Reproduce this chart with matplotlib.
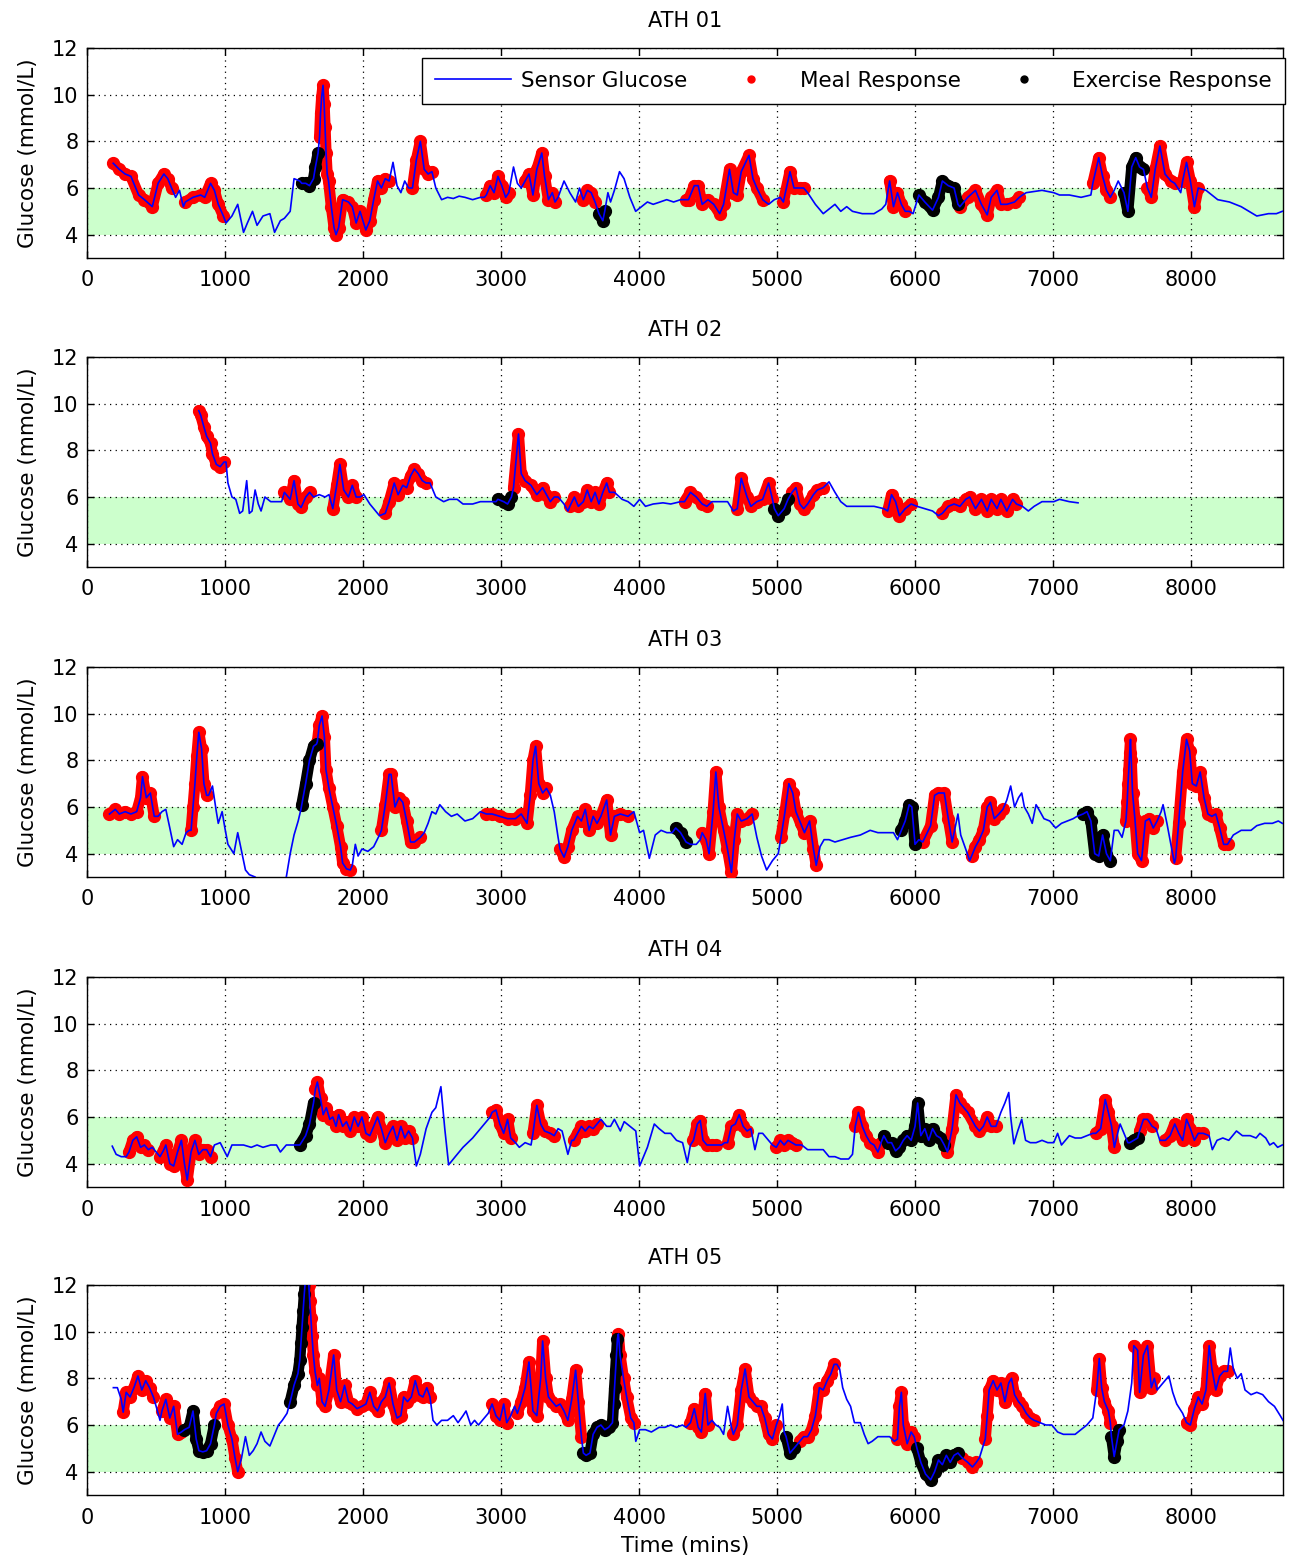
import matplotlib
matplotlib.use('Agg')
import matplotlib.pyplot as plt
from matplotlib.lines import Line2D
import numpy as np

# sensor glucose traces: (time in mins, glucose in mmol/L)
ath01 = [(190, 7.06), (234, 6.8), (276, 6.6), (318, 6.5), (374, 5.7), (416, 5.5), (473, 5.2), (515, 6.2),
         (557, 6.6), (585, 6.4), (613, 6.0), (642, 5.6), (670, 5.9), (698, 5.2), (712, 5.4), (768, 5.6),
         (824, 5.7), (853, 5.6), (895, 6.2), (923, 5.9), (951, 5.3), (988, 4.8), (1007, 4.5), (1050, 4.8),
         (1092, 5.3), (1134, 4.1), (1162, 4.5), (1199, 5.0), (1232, 4.4), (1275, 4.8), (1325, 4.9),
         (1359, 4.1), (1401, 4.6), (1430, 4.7), (1472, 5.0), (1500, 6.4), (1542, 6.3),
         (1556, 6.2), (1585, 6.2), (1612, 6.1), (1641, 6.4), (1655, 6.9), (1674, 7.5),
         (1685, 8.2), (1692, 9.2), (1700, 9.9), (1710, 10.4), (1718, 9.6), (1725, 8.6), (1732, 7.5),
         (1740, 6.6), (1750, 6.3), (1770, 5.2), (1790, 4.3), (1804, 4.0), (1823, 4.3), (1852, 5.5),
         (1894, 5.4), (1922, 5.2), (1950, 4.5), (1978, 5.0), (2020, 4.2), (2049, 4.6), (2077, 5.5),
         (2105, 6.3), (2133, 6.0), (2161, 6.4), (2189, 6.3), (2217, 7.1), (2246, 6.1), (2274, 5.8),
         (2302, 6.3), (2330, 6.0), (2358, 6.0), (2386, 7.2), (2415, 8.0), (2443, 6.8), (2471, 6.6),
         (2499, 6.7), (2527, 6.0), (2569, 5.5), (2612, 5.6), (2654, 5.55), (2696, 5.65), (2738, 5.6),
         (2794, 5.5), (2850, 5.6), (2879, 5.6), (2893, 5.7), (2921, 6.1), (2949, 5.8), (2977, 6.5),
         (3005, 6.1), (3033, 5.6), (3056, 5.8), (3090, 6.9), (3118, 6.2), (3146, 6.0), (3174, 6.3),
         (3202, 6.6), (3231, 5.7), (3259, 6.8), (3295, 7.5), (3315, 6.5), (3343, 5.5), (3371, 5.8),
         (3391, 5.4), (3413, 5.6), (3456, 6.3), (3498, 5.8), (3540, 5.4), (3568, 6.0), (3596, 5.5),
         (3625, 5.9), (3653, 5.8), (3681, 5.4), (3709, 4.9), (3737, 4.6), (3751, 5.0), (3774, 5.8),
         (3793, 5.4), (3821, 5.9), (3858, 6.7), (3891, 6.4), (3933, 5.6), (3975, 5.0), (4017, 5.2),
         (4060, 5.4), (4102, 5.3), (4150, 5.4), (4200, 5.5), (4250, 5.4), (4300, 5.5), (4343, 5.5),
         (4358, 5.5), (4400, 6.1), (4428, 6.1), (4457, 5.3), (4499, 5.5), (4541, 5.3), (4584, 4.9),
         (4612, 5.3), (4655, 6.8), (4683, 5.8), (4711, 5.7), (4740, 6.7), (4796, 7.4), (4825, 6.4),
         (4853, 6.0), (4895, 5.5), (4938, 5.3), (4980, 5.5), (5023, 5.6), (5045, 5.4), (5093, 6.7),
         (5122, 6.0), (5164, 6.0), (5192, 6.0), (5221, 5.8), (5277, 5.3), (5334, 4.9), (5376, 5.1),
         (5419, 5.3), (5461, 5.0), (5504, 5.2), (5546, 5.0), (5617, 4.9), (5702, 4.9), (5758, 5.1),
         (5787, 5.3), (5815, 6.3), (5843, 5.2), (5872, 5.8), (5900, 5.3), (5928, 5.0), (5957, 5.0),
         (5985, 4.9), (6027, 5.7), (6070, 5.4), (6126, 5.05), (6169, 5.6), (6197, 6.3), (6240, 6.1),
         (6282, 6.0), (6310, 5.3), (6324, 5.2), (6381, 5.6), (6437, 5.9), (6480, 5.3), (6522, 4.85),
         (6551, 5.6), (6593, 5.9), (6621, 5.3), (6664, 5.3), (6720, 5.4), (6755, 5.6), (6777, 5.7),
         (6805, 5.8), (6919, 5.9), (7004, 5.8), (7046, 5.7), (7117, 5.7), (7202, 5.6), (7273, 5.7),
         (7287, 6.2), (7330, 7.3), (7358, 6.5), (7386, 5.9), (7414, 5.6), (7442, 5.9), (7471, 6.3),
         (7513, 5.8), (7541, 5.0), (7569, 6.9), (7598, 7.3), (7626, 6.9), (7654, 6.8), (7683, 6.0),
         (7711, 5.6), (7739, 6.8), (7773, 7.8), (7810, 6.6), (7853, 6.3), (7881, 6.2), (7924, 5.8),
         (7938, 6.3), (7966, 7.1), (7994, 6.3), (8023, 5.2), (8051, 6.0), (8107, 5.9), (8192, 5.5),
         (8277, 5.4), (8362, 5.2), (8475, 4.8), (8560, 4.9), (8617, 4.9), (8660, 5.0)]
ath01_meal = [(190, 613), (712, 988), (1680, 2189), (2358, 2499), (2893, 3056), (3174, 3391),
              (3596, 3681), (4343, 4895), (5045, 5192), (5815, 5928), (6324, 6755), (7287, 7414),
              (7683, 7881), (7938, 8051)]
ath01_ex = [(1556, 1674), (3709, 3751), (6027, 6310), (7513, 7654)]

ath02 = [(810, 9.7), (824, 9.5), (847, 9.0), (867, 8.6), (895, 8.3), (909, 7.85), (937, 7.4), (965, 7.3),
         (993, 7.5), (1007, 7.5), (1021, 6.6), (1050, 6.0), (1078, 5.9), (1106, 5.3), (1128, 5.4),
         (1157, 6.7), (1176, 5.3), (1196, 5.4), (1218, 6.3), (1241, 5.7), (1261, 5.4), (1289, 6.0),
         (1331, 5.8), (1373, 5.8), (1410, 5.8), (1430, 6.2), (1472, 5.9), (1500, 6.7), (1528, 5.7),
         (1551, 5.55), (1585, 6.0), (1613, 6.2), (1641, 6.0), (1683, 6.1), (1725, 6.0), (1753, 6.1),
         (1781, 5.5), (1809, 6.5), (1832, 7.4), (1860, 6.3), (1894, 6.0), (1922, 6.5), (1950, 6.0),
         (1978, 6.0), (2007, 6.1), (2049, 5.7), (2091, 5.4), (2119, 5.2), (2161, 5.3), (2189, 5.8),
         (2226, 6.6), (2254, 6.1), (2288, 6.5), (2316, 6.4), (2344, 6.9), (2372, 7.2), (2400, 7.0),
         (2429, 6.7), (2457, 6.6), (2485, 6.6), (2527, 6.0), (2584, 5.8), (2625, 5.9), (2682, 5.9),
         (2724, 5.7), (2794, 5.7), (2850, 5.8), (2907, 5.8), (2963, 5.8), (2977, 5.9), (3019, 5.8),
         (3047, 5.7), (3075, 6.0), (3090, 6.4), (3112, 7.8), (3126, 8.7), (3146, 7.0), (3174, 6.7),
         (3217, 6.5), (3259, 6.1), (3301, 6.4), (3329, 6.1), (3357, 5.8), (3385, 6.0), (3413, 6.0),
         (3456, 5.7), (3484, 5.4), (3498, 5.6), (3531, 6.0), (3560, 5.6), (3596, 5.8), (3624, 6.3),
         (3653, 5.8), (3681, 6.2), (3709, 5.7), (3737, 6.2), (3765, 6.6), (3785, 6.2), (3821, 6.2),
         (3877, 5.9), (3920, 5.8), (3962, 5.6), (4004, 5.9), (4046, 5.6), (4102, 5.7), (4173, 5.75),
         (4229, 5.7), (4300, 5.8), (4329, 5.8), (4372, 6.2), (4414, 6.0), (4457, 5.7), (4491, 5.6),
         (4527, 5.8), (4598, 5.8), (4641, 5.8), (4683, 5.4), (4711, 5.5), (4740, 6.8), (4782, 6.0),
         (4810, 5.6), (4853, 5.8), (4895, 5.9), (4938, 6.6), (4966, 5.9), (4980, 5.5), (5008, 5.2),
         (5051, 5.5), (5079, 5.9), (5108, 6.2), (5136, 6.4), (5164, 5.7), (5192, 5.5), (5221, 5.7),
         (5263, 6.1), (5291, 6.3), (5334, 6.4), (5376, 6.65), (5419, 6.2), (5461, 5.8), (5504, 5.6),
         (5589, 5.6), (5702, 5.6), (5773, 5.5), (5801, 5.4), (5829, 6.1), (5858, 5.8), (5886, 5.2),
         (5928, 5.5), (5971, 5.7), (6013, 5.6), (6070, 5.5), (6126, 5.4), (6169, 5.2), (6197, 5.3),
         (6240, 5.6), (6282, 5.7), (6324, 5.6), (6366, 5.9), (6395, 6.0), (6437, 5.5), (6480, 5.9),
         (6522, 5.4), (6551, 5.9), (6593, 5.5), (6621, 5.9), (6664, 5.4), (6706, 5.9), (6734, 5.7),
         (6777, 5.6), (6820, 5.4), (6862, 5.6), (6919, 5.8), (7004, 5.8), (7046, 5.9), (7117, 5.8),
         (7180, 5.75)]
ath02_meal = [(810, 993), (1430, 1613), (1781, 1950), (2161, 2457), (3090, 3385), (3498, 3785),
              (4329, 4491), (4711, 4966), (5108, 5334), (5801, 5971), (6197, 6734)]
ath02_ex = [(2977, 3075), (4980, 5079)]

ath03 = [(163, 5.7), (205, 5.9), (234, 5.7), (276, 5.8), (318, 5.7), (360, 5.8), (388, 6.4), (402, 7.3),
         (430, 6.4), (459, 6.6), (487, 5.6), (515, 5.6), (543, 5.8), (571, 5.9), (600, 5.1), (628, 4.3),
         (656, 4.6), (689, 4.4), (718, 4.9), (740, 5.0), (754, 5.0), (768, 6.0), (782, 7.0), (796, 8.2),
         (810, 9.2), (830, 8.5), (847, 7.0), (867, 6.5), (881, 6.5), (909, 6.9), (937, 5.8), (951, 5.3),
         (979, 5.8), (999, 5.1), (1021, 4.4), (1064, 4.0), (1092, 4.9), (1120, 4.1), (1148, 3.3),
         (1176, 3.1), (1218, 3.0), (1300, 2.4), (1400, 2.6), (1444, 3.0), (1472, 4.0), (1500, 4.8),
         (1530, 5.4), (1550, 5.9), (1556, 6.1), (1584, 7.0), (1612, 8.0), (1641, 8.6), (1663, 8.7),
         (1669, 8.8), (1683, 9.5), (1703, 9.9), (1720, 9.0), (1731, 7.6), (1753, 6.8), (1781, 6.0),
         (1809, 5.2), (1837, 4.3), (1852, 3.6), (1880, 3.35), (1908, 3.3), (1922, 3.5), (1944, 4.4),
         (1964, 3.9), (1992, 4.2), (2035, 4.1), (2077, 4.3), (2119, 4.8), (2133, 5.0), (2161, 6.1),
         (2189, 7.4), (2203, 7.4), (2231, 6.0), (2260, 6.4), (2288, 6.2), (2316, 5.4), (2344, 4.5),
         (2372, 4.5), (2415, 4.7), (2443, 4.9), (2471, 5.3), (2499, 5.8), (2527, 5.7), (2556, 6.1),
         (2598, 5.8), (2640, 5.6), (2682, 5.7), (2738, 5.4), (2794, 5.5), (2850, 5.8), (2893, 5.7),
         (2935, 5.7), (2991, 5.6), (3047, 5.5), (3104, 5.5), (3146, 5.7), (3188, 5.3), (3211, 6.5),
         (3231, 8.0), (3250, 8.6), (3273, 7.0), (3301, 6.6), (3329, 6.8), (3357, 6.5), (3385, 5.8),
         (3413, 4.7), (3427, 4.2), (3456, 3.85), (3484, 4.3), (3512, 5.0), (3554, 5.6), (3582, 5.4),
         (3610, 5.9), (3638, 5.0), (3667, 5.6), (3695, 5.3), (3723, 5.6), (3765, 6.3), (3793, 4.8),
         (3821, 5.6), (3864, 5.7), (3920, 5.6), (3962, 5.8), (4004, 4.9), (4032, 5.0), (4074, 3.8),
         (4117, 4.8), (4159, 5.0), (4201, 4.9), (4240, 4.9), (4265, 5.1), (4300, 4.9), (4340, 4.5),
         (4372, 4.4), (4414, 4.4), (4443, 4.6), (4457, 4.9), (4485, 4.6), (4507, 4.0), (4536, 5.8),
         (4556, 7.5), (4578, 6.0), (4612, 5.0), (4640, 4.2), (4669, 3.2), (4689, 4.6), (4711, 5.7),
         (4740, 5.4), (4782, 5.5), (4819, 5.7), (4853, 4.7), (4887, 3.9), (4924, 3.3), (4966, 3.7),
         (5008, 4.0), (5028, 4.7), (5057, 5.8), (5085, 7.0), (5113, 6.6), (5136, 5.8), (5170, 5.3),
         (5198, 4.9), (5235, 5.4), (5263, 4.2), (5283, 3.5), (5311, 4.3), (5340, 4.6), (5376, 4.6),
         (5419, 4.5), (5475, 4.6), (5532, 4.7), (5603, 4.8), (5674, 5.0), (5730, 4.9), (5787, 4.9),
         (5843, 4.9), (5872, 4.6), (5900, 5.0), (5928, 5.4), (5957, 6.1), (5976, 6.0), (5999, 4.4),
         (6027, 4.6), (6055, 4.5), (6112, 5.2), (6141, 6.5), (6169, 6.6), (6211, 6.6), (6240, 5.5),
         (6268, 4.5), (6310, 5.7), (6330, 4.8), (6366, 4.2), (6395, 3.7), (6409, 3.9), (6437, 4.3),
         (6465, 4.6), (6494, 5.0), (6522, 6.0), (6545, 6.2), (6573, 5.5), (6607, 5.7), (6636, 5.9),
         (6664, 6.3), (6692, 6.9), (6720, 6.0), (6749, 6.4), (6772, 6.6), (6791, 6.0), (6820, 5.7),
         (6848, 5.3), (6876, 6.1), (6905, 5.8), (6933, 5.5), (6975, 5.4), (7018, 5.1), (7060, 5.3),
         (7103, 5.4), (7145, 5.5), (7173, 5.6), (7216, 5.7), (7245, 5.8), (7273, 5.4), (7301, 4.0),
         (7330, 3.9), (7358, 4.8), (7386, 4.0), (7414, 3.7), (7442, 5.0), (7471, 5.0), (7499, 4.7),
         (7527, 5.4), (7536, 6.2), (7542, 7.0), (7548, 7.6), (7554, 8.3), (7560, 8.9), (7566, 8.0),
         (7575, 6.6), (7592, 5.5), (7612, 4.0), (7640, 3.7), (7668, 5.4), (7697, 5.5), (7725, 5.1),
         (7753, 5.4), (7782, 5.8), (7796, 6.1), (7824, 5.3), (7853, 4.4), (7878, 3.6), (7887, 3.8),
         (7909, 5.3), (7938, 7.5), (7966, 8.9), (7989, 8.4), (8008, 7.0), (8037, 6.9), (8065, 7.5),
         (8093, 6.4), (8121, 5.7), (8150, 5.6), (8178, 5.7), (8206, 5.1), (8235, 4.4), (8263, 4.4),
         (8305, 4.8), (8362, 5.0), (8433, 5.0), (8475, 5.2), (8532, 5.3), (8588, 5.3), (8631, 5.4),
         (8660, 5.3)]
ath03_meal = [(163, 487), (754, 867), (1669, 1908), (2133, 2415), (2893, 3329), (3427, 3920),
              (4457, 4819), (5028, 5283), (6027, 6268), (6409, 6636), (7527, 7753), (7887, 8263)]
ath03_ex = [(1556, 1663), (4265, 4340), (5900, 5999), (7216, 7414)]

ath04 = [(183, 4.75), (211, 4.4), (248, 4.3), (284, 4.3), (304, 4.5), (332, 5.0), (360, 5.15), (388, 4.7),
         (416, 4.8), (444, 4.6), (473, 4.7), (501, 4.5), (529, 4.3), (557, 4.6), (571, 4.8), (600, 4.0),
         (628, 3.9), (656, 4.5), (684, 5.0), (706, 4.0), (726, 3.3), (754, 4.5), (782, 5.0), (810, 4.4),
         (839, 4.6), (867, 4.6), (895, 4.3), (923, 4.8), (965, 4.9), (1016, 4.3), (1050, 4.8),
         (1092, 4.8), (1134, 4.8), (1190, 4.7), (1232, 4.8), (1275, 4.7), (1331, 4.8), (1373, 4.8),
         (1401, 4.5), (1444, 4.8), (1500, 4.8), (1542, 4.8), (1584, 5.2), (1612, 5.7), (1641, 6.6),
         (1655, 7.2), (1669, 7.5), (1692, 6.8), (1711, 6.1), (1734, 6.4), (1759, 5.9), (1781, 6.0),
         (1804, 5.6), (1823, 6.1), (1852, 5.6), (1880, 5.8), (1908, 5.4), (1936, 6.0), (1964, 5.6),
         (1992, 6.0), (2021, 5.3), (2049, 5.2), (2077, 5.6), (2105, 6.0), (2133, 5.5), (2161, 4.9),
         (2189, 5.3), (2217, 5.6), (2246, 5.0), (2274, 5.6), (2302, 5.1), (2330, 5.4), (2358, 5.1),
         (2386, 3.9), (2415, 4.4), (2457, 5.5), (2499, 6.2), (2527, 6.4), (2564, 7.3), (2592, 5.5),
         (2620, 3.95), (2668, 4.3), (2724, 4.7), (2794, 5.1), (2865, 5.6), (2921, 6.0), (2935, 6.2),
         (2963, 6.3), (2991, 5.7), (3019, 5.3), (3047, 5.9), (3070, 5.1), (3104, 4.9), (3132, 4.7),
         (3174, 4.9), (3217, 4.8), (3231, 5.3), (3259, 6.5), (3287, 5.7), (3315, 5.4), (3357, 5.3),
         (3385, 5.2), (3413, 5.5), (3442, 5.4), (3484, 4.4), (3512, 5.0), (3526, 5.0), (3554, 5.3),
         (3582, 5.6), (3610, 5.4), (3638, 5.6), (3667, 5.5), (3695, 5.7), (3723, 5.9), (3765, 5.6),
         (3793, 5.6), (3821, 5.9), (3864, 5.4), (3892, 5.8), (3934, 5.6), (3976, 5.4), (4004, 3.9),
         (4060, 4.7), (4110, 5.7), (4145, 5.5), (4187, 5.3), (4229, 5.3), (4271, 5.0), (4315, 4.9),
         (4349, 4.05), (4372, 4.8), (4394, 5.0), (4422, 5.7), (4443, 5.85), (4463, 5.0), (4491, 4.8),
         (4527, 4.8), (4556, 4.8), (4598, 4.8), (4620, 4.9), (4641, 4.9), (4669, 5.6), (4697, 5.7),
         (4725, 6.1), (4754, 5.6), (4782, 5.4), (4810, 5.5), (4839, 4.6), (4867, 5.3), (4895, 5.3),
         (4938, 5.0), (4966, 4.8), (4994, 4.7), (5023, 5.0), (5051, 4.8), (5079, 5.0), (5108, 4.9),
         (5136, 4.8), (5178, 4.8), (5221, 4.6), (5277, 4.6), (5334, 4.6), (5376, 4.3), (5419, 4.3),
         (5461, 4.2), (5518, 4.2), (5546, 4.4), (5566, 5.6), (5589, 6.2), (5617, 5.6), (5645, 5.2),
         (5674, 4.9), (5702, 4.8), (5730, 4.5), (5753, 4.9), (5773, 5.2), (5801, 4.9), (5829, 4.9),
         (5858, 4.55), (5886, 4.7), (5914, 5.0), (5942, 5.2), (5971, 5.0), (5999, 5.6), (6018, 6.6),
         (6041, 5.2), (6070, 5.5), (6098, 5.0), (6126, 5.5), (6155, 5.2), (6183, 5.1), (6211, 4.8),
         (6234, 4.5), (6268, 5.5), (6296, 6.95), (6324, 6.6), (6353, 6.4), (6381, 6.2), (6437, 5.6),
         (6465, 5.4), (6494, 5.6), (6522, 6.0), (6551, 5.6), (6585, 5.6), (6621, 6.2), (6650, 6.6),
         (6678, 7.05), (6692, 6.0), (6715, 4.85), (6743, 5.4), (6772, 5.9), (6800, 5.0), (6834, 4.9),
         (6876, 4.9), (6919, 5.0), (6961, 4.9), (7004, 4.9), (7032, 5.3), (7060, 4.8), (7089, 5.0),
         (7117, 5.2), (7159, 5.1), (7202, 5.1), (7244, 5.2), (7287, 5.3), (7309, 5.3), (7344, 5.5),
         (7377, 6.75), (7400, 6.2), (7423, 5.6), (7443, 4.7), (7471, 5.4), (7485, 5.7), (7513, 5.3),
         (7541, 4.9), (7555, 4.9), (7584, 5.0), (7612, 5.1), (7626, 5.4), (7654, 5.9), (7683, 5.9),
         (7717, 5.6), (7745, 5.5), (7773, 5.0), (7796, 5.0), (7813, 5.0), (7847, 5.2), (7881, 5.7),
         (7910, 5.3), (7938, 5.0), (7966, 5.9), (7994, 5.5), (8023, 5.0), (8051, 5.3), (8087, 5.3),
         (8130, 5.2), (8153, 4.6), (8187, 5.0), (8229, 5.1), (8272, 5.0), (8328, 5.4), (8371, 5.2),
         (8427, 5.2), (8470, 5.1), (8498, 5.3), (8540, 5.1), (8569, 4.8), (8597, 4.9), (8626, 4.7),
         (8660, 4.8)]
ath04_meal = [(304, 444), (529, 895), (1655, 2358), (2935, 3070), (3231, 3385), (3526, 3695),
              (4394, 4556), (4641, 4782), (4994, 5136), (5566, 5753), (6234, 6585), (7309, 7443),
              (7626, 7717), (7813, 8087)]
ath04_ex = [(1542, 1641), (5773, 6211), (7555, 7612)]

ath05 = [(191, 7.6), (220, 7.6), (248, 7.1), (262, 6.55), (284, 7.4), (312, 7.2), (340, 7.6), (369, 8.1),
         (397, 7.5), (425, 7.9), (453, 7.6), (481, 7.2), (501, 6.8), (529, 6.2), (543, 6.6), (571, 7.1),
         (600, 6.3), (628, 6.8), (656, 5.6), (684, 5.7), (706, 5.8), (740, 5.9), (768, 6.6), (791, 5.4),
         (811, 4.9), (839, 4.85), (867, 4.9), (895, 5.2), (923, 6.0), (937, 6.5), (965, 6.8), (993, 6.9),
         (1021, 6.0), (1050, 5.4), (1072, 4.6), (1092, 4.0), (1120, 4.6), (1148, 5.5), (1176, 4.7),
         (1204, 4.9), (1232, 5.2), (1261, 5.7), (1289, 5.3), (1325, 5.1), (1359, 5.6), (1387, 6.0),
         (1415, 6.2), (1449, 6.5), (1472, 7.0), (1500, 7.7), (1528, 8.2), (1542, 8.8), (1550, 9.5),
         (1558, 10.2), (1566, 10.9), (1574, 11.6), (1582, 12.2), (1600, 12.4), (1607, 12.0), (1614, 11.3),
         (1622, 10.6), (1630, 9.8), (1640, 9.0), (1652, 8.3), (1669, 7.7), (1683, 8.0), (1703, 7.0),
         (1725, 6.8), (1753, 7.5), (1787, 9.0), (1809, 7.5), (1837, 7.0), (1866, 7.7), (1894, 7.0),
         (1922, 6.9), (1956, 6.7), (1992, 6.8), (2021, 6.9), (2049, 7.4), (2077, 6.8), (2105, 6.6),
         (2133, 7.0), (2161, 7.2), (2189, 7.8), (2217, 6.9), (2246, 6.3), (2274, 6.4), (2294, 7.2),
         (2322, 7.0), (2350, 7.2), (2378, 7.9), (2406, 7.3), (2434, 7.2), (2462, 7.6), (2485, 7.2),
         (2507, 6.2), (2535, 6.0), (2569, 6.2), (2612, 6.2), (2654, 6.4), (2688, 6.1), (2724, 6.4),
         (2746, 6.6), (2780, 6.0), (2808, 6.2), (2836, 6.0), (2879, 6.3), (2907, 6.5), (2935, 6.9),
         (2963, 6.4), (2991, 6.2), (3019, 6.9), (3041, 6.1), (3070, 6.4), (3098, 6.8), (3118, 6.5),
         (3146, 7.0), (3174, 7.6), (3202, 8.7), (3231, 6.6), (3259, 6.4), (3287, 8.0), (3301, 9.6),
         (3323, 8.0), (3343, 7.2), (3371, 7.0), (3399, 6.8), (3428, 6.9), (3456, 6.6), (3484, 6.2),
         (3512, 7.1), (3540, 8.35), (3560, 7.0), (3582, 5.5), (3596, 4.8), (3616, 4.7), (3644, 4.8),
         (3667, 5.6), (3695, 5.9), (3723, 6.0), (3751, 5.8), (3779, 5.9), (3807, 6.1), (3815, 6.9),
         (3822, 7.6), (3829, 8.3), (3836, 9.0), (3843, 9.7), (3850, 9.9), (3862, 9.0), (3887, 8.0),
         (3910, 7.2), (3940, 6.3), (3962, 6.1), (3976, 5.3), (4004, 5.8), (4046, 5.8), (4089, 5.7),
         (4145, 5.9), (4187, 5.9), (4229, 6.0), (4271, 5.9), (4314, 6.0), (4340, 5.9), (4372, 6.1),
         (4400, 6.7), (4428, 5.9), (4451, 5.7), (4479, 7.35), (4499, 6.0), (4527, 6.2), (4556, 6.0),
         (4584, 5.9), (4612, 5.6), (4641, 6.8), (4669, 5.9), (4683, 5.6), (4711, 6.0), (4740, 7.5),
         (4768, 8.4), (4796, 7.2), (4825, 7.0), (4853, 6.8), (4881, 6.8), (4910, 6.3), (4938, 5.6),
         (4966, 5.4), (4994, 6.0), (5017, 6.4), (5037, 6.9), (5051, 5.7), (5065, 5.5), (5093, 4.8),
         (5122, 5.0), (5164, 5.3), (5192, 5.5), (5221, 5.5), (5249, 5.8), (5277, 6.4), (5306, 7.6),
         (5334, 7.5), (5362, 7.9), (5390, 8.2), (5413, 8.6), (5433, 8.6), (5453, 8.4), (5475, 7.6),
         (5504, 7.1), (5532, 6.8), (5560, 6.1), (5603, 6.1), (5631, 5.6), (5659, 5.2), (5688, 5.3),
         (5730, 5.5), (5773, 5.5), (5815, 5.5), (5849, 5.3), (5872, 5.4), (5886, 6.8), (5900, 7.4),
         (5914, 6.0), (5942, 5.2), (5971, 5.7), (5993, 5.5), (6013, 5.0), (6041, 4.4), (6075, 3.9),
         (6112, 3.65), (6141, 4.0), (6169, 4.5), (6197, 4.3), (6226, 4.7), (6254, 4.4), (6282, 4.7),
         (6310, 4.8), (6339, 4.6), (6381, 4.4), (6415, 4.2), (6443, 4.4), (6466, 4.6), (6508, 5.4),
         (6522, 6.4), (6536, 7.5), (6565, 7.9), (6593, 7.5), (6621, 7.8), (6650, 7.0), (6678, 7.8),
         (6698, 8.0), (6720, 7.3), (6749, 7.0), (6777, 6.8), (6805, 6.5), (6834, 6.3), (6862, 6.2),
         (6905, 6.1), (6947, 6.0), (6990, 6.0), (7032, 5.7), (7074, 5.6), (7117, 5.6), (7159, 5.6),
         (7202, 5.8), (7244, 6.0), (7287, 6.3), (7315, 7.5), (7334, 8.85), (7351, 7.6), (7371, 7.0),
         (7400, 6.6), (7414, 6.1), (7422, 5.5), (7442, 4.65), (7462, 5.3), (7478, 5.8), (7513, 6.0),
         (7541, 6.6), (7569, 7.8), (7584, 9.4), (7612, 9.2), (7626, 7.4), (7654, 9.0), (7683, 9.4),
         (7711, 7.6), (7733, 8.0), (7753, 7.5), (7796, 7.8), (7838, 8.1), (7866, 7.4), (7895, 6.9),
         (7938, 6.5), (7966, 6.1), (7994, 6.0), (8023, 6.7), (8051, 7.2), (8079, 6.9), (8107, 7.5),
         (8130, 9.4), (8150, 8.4), (8178, 7.5), (8206, 8.1), (8235, 8.3), (8263, 8.3), (8283, 9.3),
         (8305, 8.4), (8334, 8.0), (8362, 8.2), (8390, 7.5), (8433, 7.3), (8475, 7.4), (8518, 7.3),
         (8560, 7.0), (8603, 6.8), (8645, 6.4), (8665, 6.2)]
ath05_meal = [(262, 481), (543, 684), (937, 1092), (1600, 2485), (2935, 3041), (3118, 3582),
              (3850, 3962), (4372, 4499), (4683, 4994), (5164, 5413), (5872, 5993), (6339, 6443),
              (6508, 6862), (7315, 7414), (7584, 7733), (7966, 8263)]
ath05_ex = [(706, 923), (1472, 1582), (3596, 3843), (5065, 5122), (6013, 6310), (7422, 7478)]

names = ['ATH 01', 'ATH 02', 'ATH 03', 'ATH 04', 'ATH 05']
traces = [ath01, ath02, ath03, ath04, ath05]
meals = [ath01_meal, ath02_meal, ath03_meal, ath04_meal, ath05_meal]
exercise = [ath01_ex, ath02_ex, ath03_ex, ath04_ex, ath05_ex]

W, H = 1291, 1564
fig = plt.figure(figsize=(W / 100, H / 100), dpi=100)
tops = [48, 357, 667, 977, 1285]


def mark_windows(ax, t, g, windows, color):
    for a, b in windows:
        sel = (t >= a) & (t <= b)
        ax.plot(t[sel], g[sel], color=color, lw=8, solid_capstyle='round',
                solid_joinstyle='round', zorder=3)
        ax.plot(t[sel], g[sel], 'o', color=color, ms=8.5, mec=color, zorder=3)


for i in range(5):
    ax = fig.add_axes([87 / W, 1 - (tops[i] + 210) / H, 1196 / W, 210 / H])
    pts = np.array(traces[i], dtype=float)
    t, g = pts[:, 0], pts[:, 1]
    ax.axhspan(4, 6, color='#ccffcc', zorder=0.5, lw=0)
    mark_windows(ax, t, g, meals[i], 'red')
    mark_windows(ax, t, g, exercise[i], 'black')
    ax.plot(t, g, color='#0000ff', lw=1.2, zorder=4)

    ax.set_xlim(0, 8665)
    ax.set_ylim(3, 12)
    ax.set_xticks(range(0, 9000, 1000))
    ax.set_yticks([4, 6, 8, 10, 12])
    ax.grid(True, color='k', linestyle=(0, (1, 3.5)), lw=0.9)
    ax.tick_params(direction='in', length=5, width=1, top=True, right=True, labelsize=15)
    ax.tick_params(axis='x', pad=9)
    ax.tick_params(axis='y', pad=6)
    for s in ax.spines.values():
        s.set_linewidth(1.0)
    ax.set_title(names[i], fontsize=15, pad=15)
    ax.set_ylabel('Glucose (mmol/L)', fontsize=15.5, labelpad=10)
    if i == 4:
        ax.set_xlabel('Time (mins)', fontsize=15.5, labelpad=6)
    if i == 0:
        handles = [Line2D([], [], color='#0000ff', lw=1.2),
                   Line2D([], [], ls='none', marker='o', color='red', ms=5),
                   Line2D([], [], ls='none', marker='o', color='black', ms=5)]
        leg = ax.legend(handles, ['Sensor Glucose', 'Meal Response', 'Exercise Response'],
                        loc='upper right', bbox_to_anchor=(1285 / W, 1 - 58 / H),
                        bbox_transform=fig.transFigure, ncol=3, fontsize=15.5,
                        fancybox=False, framealpha=1, edgecolor='black', borderaxespad=0,
                        handlelength=3.5, handletextpad=0.5, columnspacing=1.2, borderpad=0.6)
        leg.get_frame().set_linewidth(1.0)
        leg.set_zorder(10)

fig.savefig('out.png', dpi=100)
